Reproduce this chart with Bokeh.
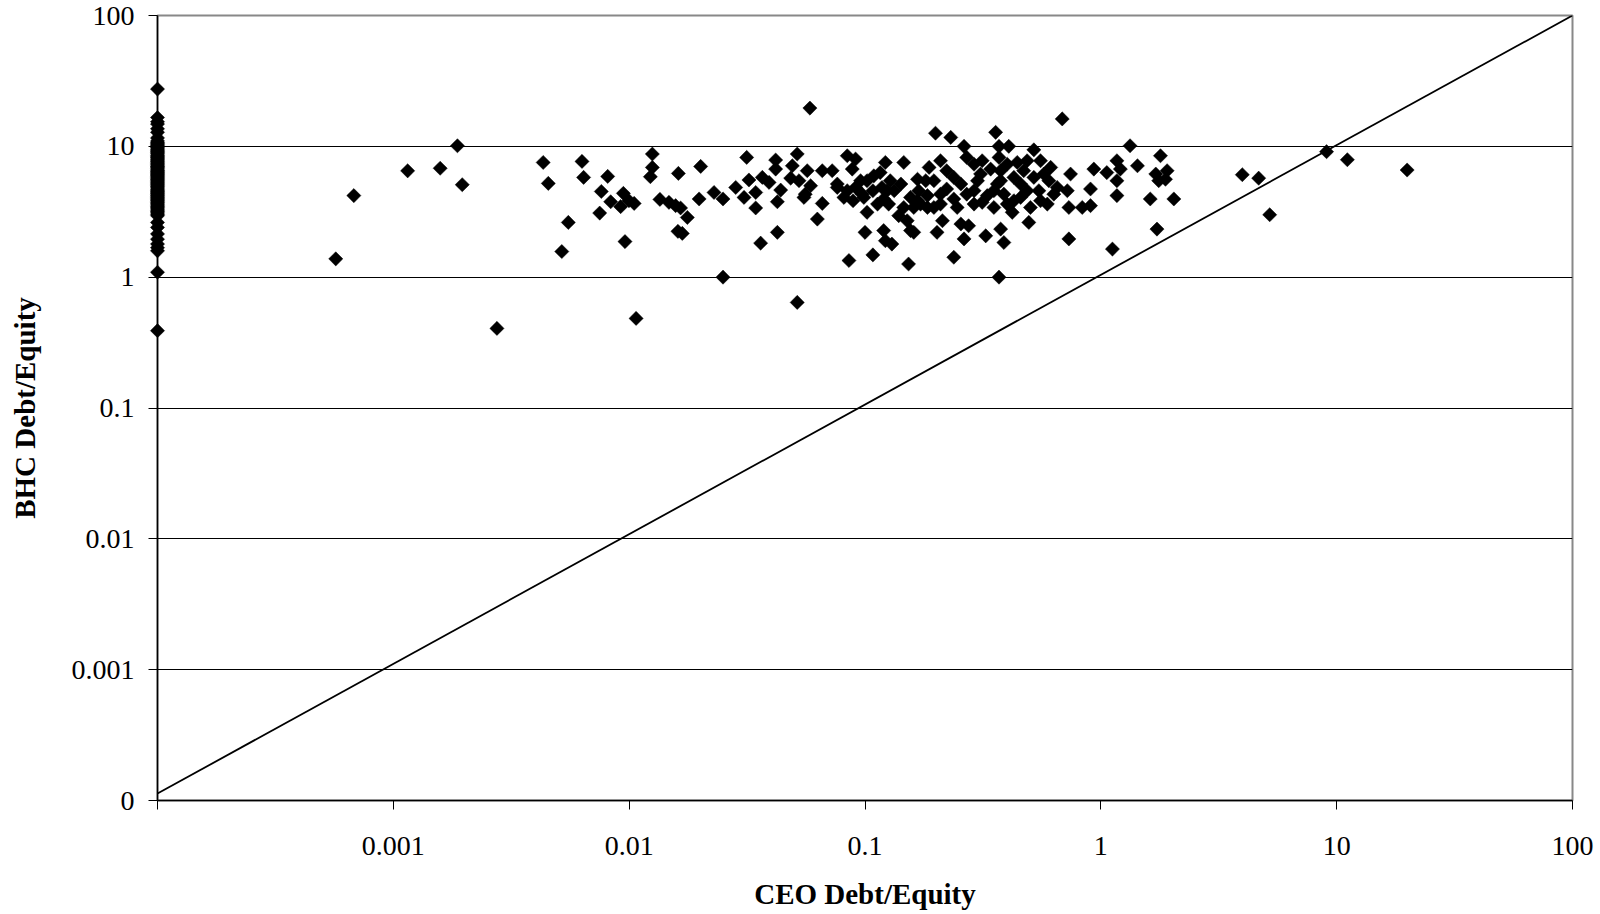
import math
from bokeh.plotting import figure
from bokeh.models import FixedTicker, Range1d, CustomJSTickFormatter, ColumnDataSource
from bokeh.embed import file_html
from bokeh.resources import INLINE

# ---------------- data ----------------
# BHC Debt/Equity for CEOs whose Debt/Equity is zero (plotted on the left axis, at 0.0001)
zero_ceo_bhc = [27.4, 16.6, 15.4, 14.8, 13.6, 12.8, 11.6, 11.0, 10.7, 10.5, 10.3, 10.1, 9.9,
                9.7, 9.5, 9.3, 9.1, 9.0, 8.8, 8.6, 8.45, 8.3, 8.15, 8.0, 7.85, 7.7, 7.55,
                7.4, 7.25, 7.1, 7.0, 6.9, 6.75, 6.6, 6.5, 6.4, 6.3, 6.2, 6.1, 6.0, 5.9, 5.8,
                5.7, 5.6, 5.5, 5.4, 5.3, 5.2, 5.1, 5.0, 4.9, 4.8, 4.7, 4.6, 4.52, 4.45, 4.37,
                4.3, 4.22, 4.15, 4.07, 4.0, 3.92, 3.85, 3.77, 3.7, 3.62, 3.55, 3.47, 3.4,
                3.32, 3.25, 3.17, 3.1, 3.02, 2.95, 2.62, 2.4, 2.14, 1.95, 1.79, 1.68, 1.59,
                1.09, 0.39]
zero_ceo_value = 0.0001

ceo_de = [0.00057, 0.00068, 0.00115, 0.00158, 0.00187, 0.00196, 0.00275, 0.00432, 0.00454,
          0.00518, 0.00552, 0.00631, 0.00641, 0.0075, 0.00762, 0.00811, 0.00835, 0.0092,
          0.00945, 0.0096, 0.00998, 0.0105, 0.0107, 0.0123, 0.01254, 0.01254, 0.0135,
          0.01475, 0.01574, 0.01617, 0.0161, 0.01652, 0.0168, 0.01765, 0.0198, 0.0201,
          0.0229, 0.0250, 0.0250, 0.0283, 0.0307, 0.0315, 0.0322, 0.0344, 0.0344, 0.0361,
          0.0367, 0.0392, 0.0418, 0.0418, 0.0425, 0.0425, 0.0439, 0.0484, 0.0492, 0.0516,
          0.0516, 0.0525, 0.0551, 0.0558, 0.0569, 0.0584, 0.0588, 0.0628, 0.0659, 0.0659,
          0.0726, 0.0763, 0.0763, 0.0814, 0.0841, 0.0841, 0.0855, 0.0883, 0.089, 0.0912,
          0.0912, 0.0958, 0.0973, 0.0989, 0.100, 0.102, 0.102, 0.108, 0.108, 0.109, 0.113,
          0.116, 0.118, 0.120, 0.120, 0.122, 0.122, 0.124, 0.126, 0.128, 0.130, 0.133,
          0.139, 0.142, 0.146, 0.146, 0.151, 0.153, 0.156, 0.156, 0.161, 0.161, 0.167,
          0.167, 0.169, 0.172, 0.181, 0.184, 0.184, 0.187, 0.196, 0.196, 0.199, 0.202,
          0.209, 0.209, 0.209, 0.213, 0.222, 0.222, 0.231, 0.238, 0.238, 0.238, 0.246,
          0.255, 0.255, 0.263, 0.263, 0.27, 0.27, 0.275, 0.29, 0.29, 0.29, 0.30, 0.309,
          0.314, 0.314, 0.325, 0.33, 0.341, 0.352, 0.352, 0.358, 0.364, 0.37, 0.37, 0.37,
          0.376, 0.376, 0.376, 0.388, 0.388, 0.401, 0.401, 0.407, 0.421, 0.428, 0.428,
          0.442, 0.457, 0.457, 0.471, 0.487, 0.487, 0.495, 0.503, 0.52, 0.52, 0.546, 0.555,
          0.555, 0.573, 0.593, 0.602, 0.613, 0.632, 0.653, 0.686, 0.721, 0.732, 0.732,
          0.744, 0.834, 0.904, 0.904, 0.934, 1.06, 1.12, 1.17, 1.17, 1.17, 1.21, 1.33,
          1.43, 1.62, 1.71, 1.73, 1.76, 1.79, 1.88, 1.91, 2.04, 3.98, 4.67, 5.2, 9.06,
          11.1, 19.9]
bhc_de = [1.38, 4.2, 6.5, 6.8, 10.1, 5.09, 0.406, 7.53, 5.21,
          1.57, 2.62, 7.67, 5.79, 3.09, 4.52, 5.89, 3.77, 3.46,
          4.37, 1.87, 3.84, 3.66, 0.484, 5.86, 8.73, 6.9, 3.93,
          3.73, 3.52, 6.21, 2.24, 3.38, 2.16, 2.86, 3.96, 7.02,
          4.44, 3.96, 1.0, 4.85, 4.07, 8.23, 5.53, 4.44, 3.38, 1.82,
          5.79, 5.30, 7.86, 6.7, 3.77, 2.2, 4.63, 5.71, 7.1, 8.73,
          0.641, 5.46, 4.07, 4.31, 6.51, 19.6, 5.0, 2.78, 6.51, 3.66,
          6.51, 5.15, 4.85, 4.07, 8.47, 4.58, 1.34, 6.7, 3.84, 8.0,
          4.85, 5.46, 4.31, 4.07, 2.2, 3.13, 5.46, 1.48, 4.58, 5.95, 3.62,
          6.3, 4.85, 2.27, 3.96, 7.53, 1.9, 4.58, 3.62, 5.46, 1.79, 4.58,
          2.95, 5.15, 7.53, 3.41, 2.7, 1.26, 4.07, 2.27, 3.41, 2.2, 5.6,
          3.84, 4.58, 3.62, 5.46, 4.2, 3.41, 6.9, 3.41, 5.46, 12.6, 2.2,
          7.76, 4.31, 3.62, 2.7, 6.51, 4.72, 11.7, 5.79, 3.96, 1.42, 3.41,
          5.15, 2.55, 10.0, 1.96, 8.23, 4.31, 2.47, 7.3, 4.58, 3.62, 5.46, 6.14,
          7.76, 3.73, 2.07, 4.2, 6.7, 3.41, 4.58, 12.8, 5.15, 8.23, 1.0, 10.0,
          6.51, 5.46, 2.33, 4.31, 1.84, 7.3, 3.62, 10.0, 3.13, 5.79, 3.84,
          7.53, 5.15, 4.07, 6.51, 4.58, 7.76, 2.62, 3.41, 9.4, 5.79, 4.58, 7.76,
          3.84, 6.14, 3.62, 5.46, 6.9, 4.31, 4.85, 16.2, 4.58, 3.41, 1.96,
          6.14, 3.41, 3.52, 4.72, 6.7, 6.3, 1.64, 7.76, 5.46, 4.2, 6.7, 10.1,
          7.1, 3.96, 6.14, 2.33, 5.46, 8.47, 5.6, 6.51, 3.96, 6.07, 5.71, 3.0, 9.1,
          7.9, 6.59]

# 45-degree reference line (end points)
diag_x = [0.0001, 100]
diag_y = [0.000113, 100]

x_ticks = [0.0001, 0.001, 0.01, 0.1, 1, 10, 100]
x_labels = ["", "0.001", "0.01", "0.1", "1", "10", "100"]
y_ticks = [0.0001, 0.001, 0.01, 0.1, 1, 10, 100]
y_labels = ["0", "0.001", "0.01", "0.1", "1", "10", "100"]

# ---------------- figure ----------------
FONT = "Liberation Serif"

p = figure(width=1600, height=912, x_axis_type="log", y_axis_type="log",
           x_range=Range1d(0.0001, 100), y_range=Range1d(0.0001, 100),
           output_backend="svg", toolbar_location=None,
           min_border_left=157, min_border_right=28, min_border_top=15, min_border_bottom=112)
p.background_fill_color = "white"
p.border_fill_color = "white"
p.outline_line_color = "#888888"
p.outline_line_width = 2

fmt_code = """
const lt = Math.log10(tick);
for (let i = 0; i < tvals.length; i++) {
  if (Math.abs(Math.log10(tvals[i]) - lt) < 1e-6) return tlabels[i];
}
return "";
"""

for ax, tv, tl, title in ((p.xaxis[0], x_ticks, x_labels, "CEO Debt/Equity"),
                          (p.yaxis[0], y_ticks, y_labels, "BHC Debt/Equity")):
    ax.ticker = FixedTicker(ticks=tv, minor_ticks=[])
    ax.formatter = CustomJSTickFormatter(args=dict(tvals=tv, tlabels=tl), code=fmt_code)
    ax.axis_label = title
    ax.axis_label_text_font = FONT
    ax.axis_label_text_font_style = "bold"
    ax.axis_label_text_font_size = "29px"
    ax.axis_label_text_color = "black"
    ax.major_label_text_font = FONT
    ax.major_label_text_font_size = "28px"
    ax.major_label_text_color = "black"
    ax.axis_line_color = "black"
    ax.axis_line_width = 1.5
    ax.major_tick_line_color = "black"
    ax.major_tick_line_width = 1
    ax.major_tick_out = 9
    ax.major_tick_in = 0
    ax.minor_tick_line_color = None

p.xaxis.major_label_standoff = 27
p.xaxis.axis_label_standoff = 20
p.yaxis.major_label_standoff = 14
p.yaxis.axis_label_standoff = 28
p.yaxis.major_label_orientation = "horizontal"

p.xgrid.visible = False
p.ygrid.ticker = FixedTicker(ticks=y_ticks, minor_ticks=[])
p.ygrid.grid_line_color = "black"
p.ygrid.grid_line_width = 1

p.line(diag_x, diag_y, line_color="black", line_width=1.8)

pts_x = [zero_ceo_value] * len(zero_ceo_bhc) + ceo_de
pts_y = zero_ceo_bhc + bhc_de
src = ColumnDataSource(dict(x=pts_x, y=pts_y))
p.scatter("x", "y", source=src, marker="square", size=10, angle=math.pi / 4,
          fill_color="black", line_color="black", line_width=0.5, level="overlay")

open("out.html", "w").write(file_html(p, INLINE))
